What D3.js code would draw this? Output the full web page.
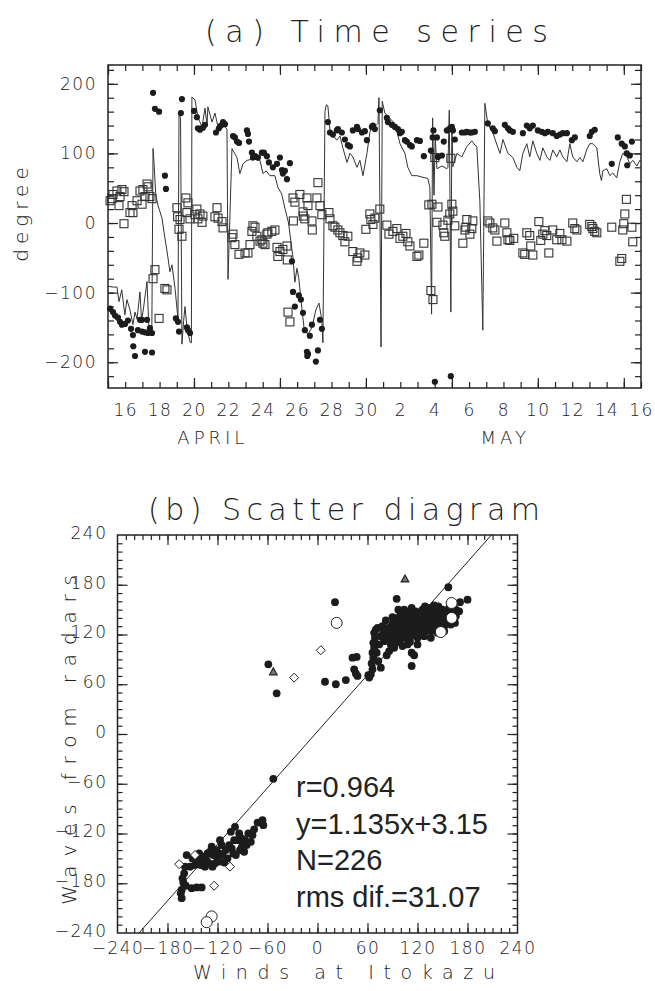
<!DOCTYPE html>
<html>
<head>
<meta charset="utf-8">
<script src="https://cdn.jsdelivr.net/npm/d3@7"></script>
<style>
  body { margin: 0; background: #fff; }
  svg text { fill: #222; }
</style>
</head>
<body>
<svg id="fig" width="655" height="991"></svg>
<script>
// ---- data, (a): day counted in April (May 1 = 31), direction in degree
var windLine = [
  [15.00,-91],[15.30,-92],[15.52,-92],[15.64,-113],[15.80,-96],[15.98,-132],[16.10,-110],[16.28,-125],
  [16.45,-146],[16.57,-128],[16.69,-138],[16.86,-99],[16.95,-140],[17.05,-125],[17.27,-84],[17.38,-152],
  [17.55,-150],[17.62,107],[17.68,85],[17.78,40],[17.91,25],[18.14,7],[18.30,-20],[18.43,-40],[18.60,-70],
  [18.72,-60],[18.90,-94],[19.07,-138],[19.13,158],[19.22,150],[19.30,-174],[19.40,-140],[19.48,-120],
  [19.59,-150],[19.77,-171],[19.85,-172],[19.88,181],[20.06,177],[20.23,152],[20.47,138],[20.64,165],
  [20.76,140],[20.81,167],[21.05,145],[21.22,158],[21.40,138],[21.63,145],[21.80,138],[21.92,135],
  [21.98,-81],[22.21,107],[22.50,94],[22.67,71],[22.85,85],[23.08,90],[23.43,92],[23.84,90],[24.01,71],
  [24.20,75],[24.42,68],[24.71,68],[24.88,51],[25.10,42],[25.30,20],[25.50,0],[25.76,-50],[25.87,-85],
  [25.99,-65],[26.10,-80],[26.22,-110],[26.40,-150],[26.63,-160],[26.86,-150],[27.09,-125],[27.27,-115],
  [27.44,-140],[27.50,-172],[27.62,160],[27.70,170],[27.79,168],[27.91,133],[28.08,126],[28.31,119],
  [28.49,125],[28.66,108],[28.90,87],[29.07,100],[29.24,95],[29.48,80],[29.65,90],[29.83,68],[30.06,100],
  [30.23,130],[30.41,143],[30.58,140],[30.70,143],[30.76,180],[30.88,-178],[30.95,175],[31.10,158],
  [31.40,150],[31.69,143],[31.98,114],[32.27,100],[32.44,80],[32.67,68],[32.97,68],[33.26,66],[33.60,64],
  [33.72,51],[33.82,-131],[33.88,151],[33.96,40],[34.03,123],[34.13,78],[34.42,82],[34.71,78],[34.77,80],
  [34.85,162],[34.94,-128],[35.00,140],[35.06,81],[35.29,100],[35.58,95],[35.87,110],[36.16,118],
  [36.34,112],[36.45,110],[36.63,30],[36.80,-154],[36.92,172],[37.09,143],[37.38,130],[37.67,109],
  [37.80,100],[37.97,120],[38.26,100],[38.55,94],[38.78,80],[38.95,75],[39.13,100],[39.36,114],[39.53,95],
  [39.71,118],[39.94,100],[40.12,90],[40.29,108],[40.52,95],[40.70,90],[40.87,105],[41.10,95],[41.28,105],
  [41.45,95],[41.69,88],[41.86,114],[42.03,95],[42.27,88],[42.44,94],[42.62,88],[42.85,106],[43.02,114],
  [43.20,114],[43.43,108],[43.60,71],[43.70,61],[43.78,75],[44.01,78],[44.19,68],[44.36,72],[44.59,65],
  [44.77,88],[44.94,100],[45.17,96],[45.35,85],[45.52,90],[45.76,82],[45.93,90],[46.00,88]
];

var radarDots = [
  [17.62,187],[17.73,164],[17.97,160],[18.31,68],[18.37,49],[19.30,178],[19.24,158],[20.00,161],[20.17,152],
  [20.23,136],[20.35,134],[20.52,137],[20.64,141],[21.28,130],[21.45,136],[21.57,140],[21.69,145],[21.80,142],
  [22.27,125],[22.38,123],[22.50,117],[22.62,115],[23.08,133],[23.14,128],[23.20,117],[23.37,101],[23.43,94],
  [23.55,96],[23.72,94],[23.95,101],[24.07,101],[24.24,96],[24.36,87],[24.59,80],[24.83,85],[25.00,94],
  [25.12,76],[25.17,71],[25.29,75],[25.41,63],[25.58,86],[27.79,145],[27.91,130],[28.08,127],[28.31,133],
  [28.37,135],[28.60,130],[28.78,120],[28.95,112],[29.07,110],[29.24,133],[29.48,138],[29.53,135],[29.77,130],
  [29.94,132],[30.06,119],[30.35,138],[30.41,140],[30.52,135],[30.81,162],[31.22,151],[31.28,145],[31.51,141],
  [31.69,138],[31.86,135],[31.98,129],[32.09,131],[32.27,119],[32.38,117],[32.56,112],[32.67,110],[32.97,119],
  [33.14,118],[33.37,96],[33.78,104],[33.88,123],[33.93,133],[34.13,123],[34.19,95],[34.42,97],[34.53,117],
  [34.71,133],[34.88,136],[35.00,138],[35.06,133],[35.17,120],[35.58,130],[35.76,130],[35.87,131],[36.05,130],
  [36.16,130],[36.34,131],[37.09,143],[37.38,136],[37.50,132],[38.08,141],[38.26,136],[38.37,133],[38.55,131],
  [39.13,129],[39.36,140],[39.53,136],[39.71,140],[40.00,133],[40.23,131],[40.41,129],[40.58,131],[40.87,129],
  [41.10,125],[41.28,127],[41.45,129],[41.69,129],[41.98,119],[42.15,123],[43.02,125],[43.14,131],[43.31,134],
  [44.30,85],[44.65,123],[44.88,114],[45.06,110],[45.17,100],[45.47,117],[45.20,83],[45.35,97],
  [15.12,-123],[15.29,-128],[15.41,-133],[15.58,-136],[15.70,-142],[15.81,-146],[15.99,-145],[16.16,-140],
  [16.34,-152],[16.45,-161],[16.47,-177],[16.57,-191],[16.74,-154],[16.86,-139],[16.98,-139],[16.98,-156],
  [17.15,-157],[17.15,-185],[17.27,-139],[17.33,-158],[17.44,-151],[17.56,-158],[17.56,-186],[18.95,-137],
  [19.07,-142],[19.13,-156],[19.59,-150],[19.65,-154],[19.77,-158],[25.70,-55],[25.76,-99],[25.87,-120],
  [26.10,-104],[26.22,-110],[26.34,-129],[26.45,-154],[26.57,-185],[26.63,-188],[26.59,-191],[26.74,-162],
  [26.86,-146],[27.09,-199],[27.21,-183],[27.33,-139],[27.44,-152],[34.01,-228],[34.94,-220]
];

var diffSquares = [
  [15.23,35],[15.29,41],[15.52,46],[15.81,48],[15.93,45],[15.70,38],[15.64,25],[15.12,32],[16.40,25],
  [16.28,15],[16.45,15],[16.69,32],[16.86,46],[17.03,48],[17.27,56],[17.33,52],[17.15,38],[17.44,38],
  [17.56,35],[16.98,27],[15.93,-1],[17.73,-67],[17.62,-80],[18.31,-94],[18.43,-96],[17.97,-137],
  [19.01,22],[19.05,9],[19.19,5],[19.13,-9],[19.30,-19],[19.53,36],[19.65,29],[19.59,15],[19.77,6],
  [20.06,12],[20.17,20],[20.23,6],[20.35,13],[20.47,1],[20.52,10],[21.34,22],[21.22,9],[21.40,7],
  [21.63,2],[21.69,-7],[22.21,-21],[22.27,-16],[22.38,-31],[22.62,-45],[22.97,-43],[23.14,-43],[23.26,-31],
  [23.37,-12],[23.43,-4],[23.55,-6],[23.66,-19],[23.84,-26],[23.95,-24],[24.01,-29],[24.13,-31],[24.24,-16],
  [24.30,-14],[24.53,-12],[24.71,-10],[24.83,-35],[24.88,-48],[25.00,-41],[25.17,-38],[25.41,-33],
  [25.43,-53],[25.47,-128],[25.58,-142],[25.76,36],[25.87,30],[26.16,41],[26.57,36],[26.63,25],[26.34,16],
  [25.78,3],[26.36,10],[26.45,6],[26.86,3],[26.88,-10],[27.15,36],[27.21,58],[27.33,25],[27.44,12],
  [27.85,15],[27.91,6],[28.08,-4],[28.20,-6],[28.37,-10],[28.49,-14],[28.66,-18],[28.78,-27],[28.95,-19],
  [29.24,-41],[29.48,-55],[29.53,-50],[29.65,-43],[29.94,-46],[30.00,-9],[30.23,13],[30.29,5],[30.41,-2],
  [30.52,7],[30.81,20],[31.22,-3],[31.34,-16],[31.57,-12],[31.80,-8],[31.98,-22],[32.15,-19],[32.33,-15],
  [32.44,-27],[32.56,-33],[32.97,-48],[33.08,-46],[33.37,-29],[33.66,26],[33.84,27],[34.19,23],[33.78,-97],
  [33.90,-110],[34.01,94],[34.13,1],[34.48,-3],[34.53,-14],[34.59,-19],[34.77,4],[34.88,13],[34.94,93],
  [35.00,27],[35.06,17],[35.17,-4],[35.64,-29],[35.81,-6],[35.76,-10],[35.87,5],[36.05,-16],[36.22,3],
  [36.16,-8],[37.09,3],[37.21,0],[37.38,-7],[37.50,-10],[37.62,-26],[38.08,0],[38.20,-14],[38.26,-24],
  [38.37,-25],[38.60,-22],[39.13,-43],[39.24,-45],[39.36,-14],[39.53,-18],[39.59,-33],[39.71,-46],
  [40.06,2],[40.17,-25],[40.29,-16],[40.41,-11],[40.52,-18],[40.64,-43],[40.87,-10],[41.10,-24],[41.28,-15],
  [41.40,-24],[41.69,-26],[42.03,0],[42.15,-8],[42.27,-10],[43.02,-2],[43.14,-5],[43.20,-8],[43.31,-12],
  [43.43,-14],[44.30,-6],[44.77,-55],[44.88,-51],[44.94,-10],[45.00,-1],[45.06,13],[45.15,34],[45.47,-6],
  [45.52,-27]
];

var tickDays = [16,18,20,22,24,26,28,30,32,34,36,38,40,42,44,46];
var tickDayLabels = ["16","18","20","22","24","26","28","30","2","4","6","8","10","12","14","16"];
var monthNames = ["APRIL", "MAY"];
var monthCentres = [21.1, 38.1];

// ---- data, (b): [winds at Itokazu, waves from radars]
var scatterFilled = [
  [62,68],[64,72],[66,78],[65,85],[67,92],[66,98],[68,104],[67,110],[69,116],[68,122],[70,126],
  [42,92],[47,93],[44,78],[46,73],[48,70],[61,71],[9,63],[22,60],[34,65],[-59,84],[-49,49],
  [83,95],[86,100],[80,112],[76,118],[72,128],[78,130],[82,137],[90,141],[95,163],[111,111],[113,98],
  [116,95],[113,82],[85,128],[88,122],[92,118],[95,126],[98,132],[100,120],[102,138],[104,128],[106,116],
  [108,134],[110,124],[112,140],[114,130],[116,120],[118,136],[120,126],[122,144],[124,132],[126,122],
  [128,138],[130,128],[132,146],[134,134],[136,124],[138,140],[140,130],[142,136],[144,128],[146,142],
  [148,134],[150,138],[152,130],[154,144],[156,136],[158,140],[160,132],[162,146],[164,138],[166,142],
  [100,146],[106,144],[96,140],[90,132],[94,110],[99,112],[104,150],[110,148],[118,148],[126,150],
  [134,152],[142,148],[150,150],[158,152],[166,150],[170,148],[128,118],[136,116],[120,116],[112,118],
  [144,122],[152,124],[102,106],[108,108],[88,108],[92,104],[120,108],[140,155],[157,177],[171,159],
  [180,162],[21,159],
  [84,118],[87,126],[91,136],[93,124],[97,118],[101,130],[103,124],[105,140],[107,128],[109,118],
  [111,136],[113,126],[115,142],[117,132],[119,122],[121,138],[123,128],[125,142],[127,132],[129,124],
  [131,140],[133,130],[135,144],[137,136],[139,126],[141,142],[143,132],[145,146],[147,138],[149,128],
  [151,144],[153,136],[155,140],[157,146],[159,136],[161,150],[163,142],[165,134],[79,122],[74,108],
  [71,98],[73,88],[76,80],[89,114],[97,150],[113,152],[129,154],[145,154],
  [-53,-54],[-99,-112],[-72,-107],[-66,-104],[-65,-110],[-83,-120],[-91,-126],[-90,-132],[-91,-137],
  [-88,-142],[-101,-144],[-103,-138],[-98,-146],[-117,-128],[-115,-134],[-118,-144],[-120,-150],
  [-129,-142],[-132,-144],[-133,-152],[-135,-160],[-130,-156],[-123,-156],[-119,-154],[-143,-152],
  [-145,-154],[-157,-146],[-153,-160],[-159,-160],[-161,-179],[-163,-188],[-164,-192],[-163,-198],
  [-151,-186],[-145,-185],[-139,-185],[-110,-140],[-108,-150],[-112,-155],[-125,-146],[-127,-136],
  [-138,-148],[-96,-128],[-94,-120],[-85,-134],[-80,-130],[-126,-160],[-150,-150],[-140,-158],
  [-160,-168],[-162,-174],[-158,-183],[-147,-158],[-141,-150],[-136,-152],[-121,-140],[-114,-146],
  [-106,-134],[-100,-128],[-93,-140],[-87,-128],[-78,-122],[-76,-115],[-104,-118],[-142,-144]
];
var scatterOpen = [[23,134],[161,158],[161,140],[148,123],[-127,-220],[-133,-227]];
var scatterDiamond = [[4,101],[-28,68],[-166,-157],[-147,-146],[-105,-160],[-124,-183]];
var scatterTriangle = [[105,187],[-53,75]];
var fitSlope = 1.135, fitIntercept = 3.15;
var statLines = ["r=0.964", "y=1.135x+3.15", "N=226", "rms dif.=31.07"];

var svg = d3.select("#fig");
var thin = "'DejaVu Sans', 'Liberation Sans', sans-serif";

function styleAxis(g) {
  g.select(".domain").remove();
  g.selectAll(".tick line").attr("stroke", "#222").attr("stroke-width", 1.2);
  g.selectAll(".tick text")
    .attr("fill", "#222")
    .style("font-family", thin)
    .style("font-size", "17px")
    .style("font-weight", "300")
    .style("letter-spacing", "1.5px");
}

// ================= (a) Time series =================
var xT = d3.scaleLinear().domain([15, 46]).range([108, 641]);
var yT = d3.scaleLinear().domain([-237, 227]).range([388, 65]);

var pa = svg.append("g");

// ticks on all four sides, pointing inward
[[d3.axisBottom, 388], [d3.axisTop, 65]].forEach(function(a) {
  pa.append("g").attr("transform", "translate(0," + a[1] + ")")
    .call(a[0](xT).tickValues(d3.range(15, 47)).tickSize(-6).tickFormat("")).call(styleAxis);
  pa.append("g").attr("transform", "translate(0," + a[1] + ")")
    .call(a[0](xT).tickValues(d3.range(15, 47, 5)).tickSize(-10).tickFormat("")).call(styleAxis);
});
[[d3.axisLeft, 108], [d3.axisRight, 641]].forEach(function(a) {
  pa.append("g").attr("transform", "translate(" + a[1] + ",0)")
    .call(a[0](yT).tickValues(d3.range(-220, 227, 20)).tickSize(-6).tickFormat("")).call(styleAxis);
  pa.append("g").attr("transform", "translate(" + a[1] + ",0)")
    .call(a[0](yT).tickValues([-200, -100, 0, 100, 200]).tickSize(-10).tickFormat("")).call(styleAxis);
});

// labels
pa.append("g").attr("transform", "translate(0,388)")
  .call(d3.axisBottom(xT).tickValues(tickDays).tickSize(0).tickPadding(16)
    .tickFormat(function(d, i) { return tickDayLabels[i]; }))
  .call(styleAxis);
pa.append("g").attr("transform", "translate(108,0)")
  .call(d3.axisLeft(yT).tickValues([-200, -100, 0, 100, 200]).tickSize(0).tickPadding(11))
  .call(styleAxis);

pa.selectAll(".month").data(monthNames).enter().append("text")
  .attr("x", function(d, i) { return xT(monthCentres[i]); })
  .attr("y", 444)
  .attr("text-anchor", "middle")
  .style("font-family", thin).style("font-size", "18px").style("font-weight", "300")
  .style("letter-spacing", "4px")
  .text(function(d) { return d; });

// wind line
pa.append("path")
  .datum(windLine)
  .attr("fill", "none")
  .attr("stroke", "#333")
  .attr("stroke-width", 1)
  .attr("d", d3.line().x(function(d) { return xT(d[0]); }).y(function(d) { return yT(d[1]); }));

// squares
pa.selectAll(".sq").data(diffSquares).enter().append("rect")
  .attr("x", function(d) { return xT(d[0]) - 4; })
  .attr("y", function(d) { return yT(d[1]) - 4; })
  .attr("width", 8).attr("height", 8)
  .attr("fill", "none").attr("stroke", "#333").attr("stroke-width", 1.1);

// dots
pa.selectAll(".dot").data(radarDots).enter().append("circle")
  .attr("cx", function(d) { return xT(d[0]); })
  .attr("cy", function(d) { return yT(d[1]); })
  .attr("r", 3.1)
  .attr("fill", "#1c1c1c");

pa.append("rect").attr("x", 108).attr("y", 65).attr("width", 533).attr("height", 323)
  .attr("fill", "none").attr("stroke", "#222").attr("stroke-width", 1.5);

svg.append("text").attr("x", 205).attr("y", 42)
  .attr("textLength", 343).attr("lengthAdjust", "spacing")
  .style("font-family", thin).style("font-size", "30px").style("font-weight", "200")
  .text("(a) Time series");

svg.append("text")
  .attr("transform", "translate(28,212) rotate(-90)")
  .attr("text-anchor", "middle")
  .style("font-family", thin).style("font-size", "20px").style("font-weight", "300")
  .style("letter-spacing", "5px")
  .text("degree");

// ================= (b) Scatter diagram =================
var xS = d3.scaleLinear().domain([-240, 240]).range([117.5, 517.5]);
var yS = d3.scaleLinear().domain([-240, 240]).range([933, 535]);

var pb = svg.append("g");

[[d3.axisBottom, 933], [d3.axisTop, 535]].forEach(function(a) {
  pb.append("g").attr("transform", "translate(0," + a[1] + ")")
    .call(a[0](xS).tickValues(d3.range(-230, 240, 10)).tickSize(-5).tickFormat("")).call(styleAxis);
  pb.append("g").attr("transform", "translate(0," + a[1] + ")")
    .call(a[0](xS).tickValues(d3.range(-180, 240, 60)).tickSize(-10).tickFormat("")).call(styleAxis);
});
[[d3.axisLeft, 117.5], [d3.axisRight, 517.5]].forEach(function(a) {
  pb.append("g").attr("transform", "translate(" + a[1] + ",0)")
    .call(a[0](yS).tickValues(d3.range(-230, 240, 10)).tickSize(-5).tickFormat("")).call(styleAxis);
  pb.append("g").attr("transform", "translate(" + a[1] + ",0)")
    .call(a[0](yS).tickValues(d3.range(-180, 240, 60)).tickSize(-10).tickFormat("")).call(styleAxis);
});

pb.append("g").attr("transform", "translate(0,933)")
  .call(d3.axisBottom(xS).tickValues(d3.range(-240, 241, 60)).tickSize(0).tickPadding(9))
  .call(styleAxis);
pb.append("g").attr("transform", "translate(117.5,0)")
  .call(d3.axisLeft(yS).tickValues(d3.range(-240, 241, 60)).tickSize(0).tickPadding(10))
  .call(styleAxis)
  .selectAll(".tick text").attr("dy", "0.2em");

pb.append("clipPath").attr("id", "clipb").append("rect")
  .attr("x", 117.5).attr("y", 535).attr("width", 400).attr("height", 398);

// fitted line
var xLo = (-240 - fitIntercept) / fitSlope, xHi = (240 - fitIntercept) / fitSlope;
pb.append("line")
  .attr("clip-path", "url(#clipb)")
  .attr("x1", xS(xLo)).attr("y1", yS(fitSlope * xLo + fitIntercept))
  .attr("x2", xS(xHi)).attr("y2", yS(fitSlope * xHi + fitIntercept))
  .attr("stroke", "#222").attr("stroke-width", 1);

pb.selectAll(".fc").data(scatterFilled).enter().append("circle")
  .attr("cx", function(d) { return xS(d[0]); })
  .attr("cy", function(d) { return yS(d[1]); })
  .attr("r", 3.9).attr("fill", "#1c1c1c");

pb.selectAll(".oc").data(scatterOpen).enter().append("circle")
  .attr("cx", function(d) { return xS(d[0]); })
  .attr("cy", function(d) { return yS(d[1]); })
  .attr("r", 5.5).attr("fill", "#fff").attr("stroke", "#222").attr("stroke-width", 1);

pb.selectAll(".dm").data(scatterDiamond).enter().append("path")
  .attr("transform", function(d) { return "translate(" + xS(d[0]) + "," + yS(d[1]) + ")"; })
  .attr("d", "M0,-4.5L4.5,0L0,4.5L-4.5,0Z")
  .attr("fill", "#fff").attr("stroke", "#222").attr("stroke-width", 1);

pb.selectAll(".tr").data(scatterTriangle).enter().append("path")
  .attr("transform", function(d) { return "translate(" + xS(d[0]) + "," + yS(d[1]) + ")"; })
  .attr("d", "M0,-4L3.8,3L-3.8,3Z")
  .attr("fill", "#777").attr("stroke", "#222").attr("stroke-width", 1.2);

pb.append("rect").attr("x", 117.5).attr("y", 535).attr("width", 400).attr("height", 398)
  .attr("fill", "none").attr("stroke", "#222").attr("stroke-width", 1.5);

var statY = [797, 834, 870, 907];
pb.selectAll(".stat").data(statLines).enter().append("text")
  .attr("x", 296)
  .attr("y", function(d, i) { return statY[i]; })
  .style("font-family", "'Liberation Sans', Arial, sans-serif")
  .style("font-size", "29px")
  .style("font-weight", "400")
  .text(function(d) { return d; });

svg.append("text").attr("x", 148).attr("y", 520)
  .attr("textLength", 392).attr("lengthAdjust", "spacing")
  .style("font-family", thin).style("font-size", "30px").style("font-weight", "200")
  .text("(b) Scatter diagram");

svg.append("text").attr("x", 193).attr("y", 979)
  .attr("textLength", 302).attr("lengthAdjust", "spacing")
  .style("font-family", thin).style("font-size", "19px").style("font-weight", "300")
  .text("Winds at Itokazu");

svg.append("text")
  .attr("transform", "translate(76,905) rotate(-90)")
  .attr("textLength", 330).attr("lengthAdjust", "spacing")
  .style("font-family", thin).style("font-size", "20px").style("font-weight", "300")
  .text("Waves from radars");
</script>
</body>
</html>
